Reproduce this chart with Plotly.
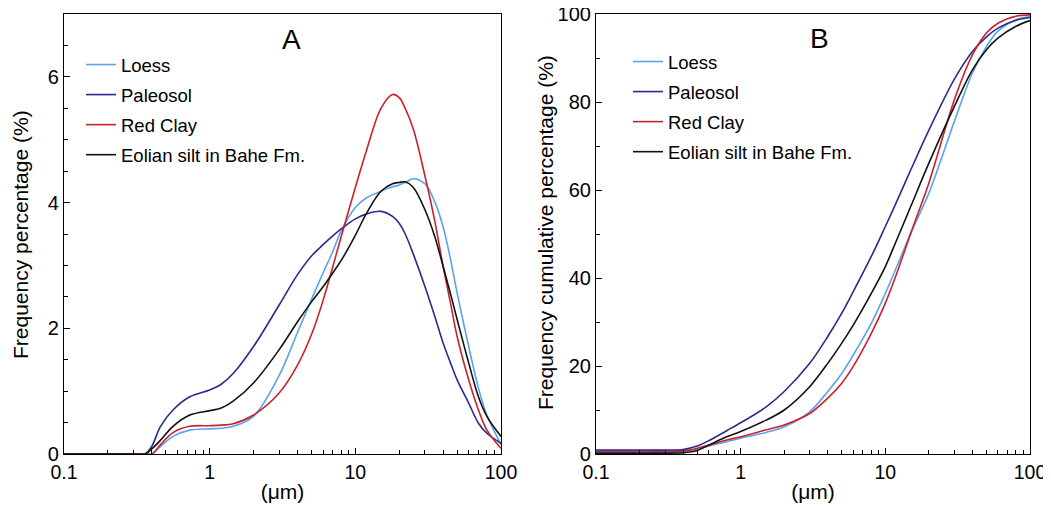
import plotly.graph_objects as go

# Grain size (um) sample points for panel A
size_a = [0.1, 0.2, 0.3, 0.36, 0.4, 0.46, 0.56, 0.73, 1, 1.2, 1.45, 2, 3, 4, 5, 6, 7, 8,
          10, 12, 15, 18, 20, 22, 25, 30, 35, 40, 45, 50, 60, 70, 80, 100]

# Panel A: frequency percentage (%)
loess_a = [0, 0, 0, 0, 0, 0.12, 0.28, 0.38, 0.40, 0.41, 0.44, 0.60, 1.25, 1.93, 2.46, 2.88, 3.22, 3.55,
           3.92, 4.08, 4.18, 4.25, 4.28, 4.32, 4.38, 4.30, 4.02, 3.62, 3.10, 2.56, 1.71, 1.05, 0.62, 0.15]
paleosol_a = [0, 0, 0, 0, 0.12, 0.44, 0.70, 0.91, 1.02, 1.11, 1.28, 1.71, 2.37, 2.85, 3.15, 3.33, 3.47, 3.58,
              3.74, 3.82, 3.86, 3.78, 3.67, 3.50, 3.18, 2.67, 2.20, 1.77, 1.45, 1.18, 0.81, 0.49, 0.33, 0.17]
redclay_a = [0, 0, 0, 0, 0, 0.15, 0.34, 0.44, 0.45, 0.46, 0.48, 0.62, 0.97, 1.41, 1.90, 2.44, 2.98, 3.46,
             4.24, 4.85, 5.50, 5.72, 5.67, 5.50, 5.17, 4.43, 3.72, 2.99, 2.40, 1.87, 1.18, 0.70, 0.38, 0.09]
eolian_a = [0, 0, 0, 0, 0.08, 0.22, 0.44, 0.62, 0.69, 0.73, 0.84, 1.13, 1.66, 2.10, 2.42, 2.66, 2.88, 3.08,
            3.48, 3.84, 4.18, 4.30, 4.32, 4.33, 4.24, 3.89, 3.47, 2.99, 2.55, 2.14, 1.45, 0.91, 0.60, 0.28]

# Panel B: cumulative percentage (%)
size_b = [0.1, 0.2, 0.3, 0.4, 0.5, 0.6, 0.8, 1, 1.5, 2, 3, 4, 5, 6, 8, 10, 12, 15, 20, 30, 40, 50, 60, 80, 100]
loess_b = [0.8, 0.8, 0.8, 0.8, 1.1, 1.8, 2.8, 3.6, 4.9, 6.2, 9.6, 14.2, 18.3, 22.5, 29.7, 36.5, 42.6, 50.2, 59.3,
           75.6, 86.6, 92.6, 96.1, 98.7, 99.4]
paleosol_b = [0.9, 0.9, 0.9, 1.0, 1.8, 3.0, 5.3, 7.1, 10.7, 14.2, 20.6, 26.7, 32.0, 36.9, 44.9, 51.7, 57.4, 64.6, 73.6,
              85.2, 91.5, 94.8, 96.8, 98.6, 99.2]
redclay_b = [0.5, 0.5, 0.5, 0.6, 1.3, 2.0, 3.2, 3.9, 5.5, 6.6, 9.2, 12.7, 16.1, 19.9, 27.4, 34.3, 41.1, 50.2, 61.6,
             80.5, 90.7, 95.7, 97.9, 99.5, 99.8]
eolian_b = [0.2, 0.2, 0.2, 0.3, 0.8, 2.0, 3.9, 5.1, 7.7, 10.0, 15.3, 20.6, 25.2, 29.3, 36.5, 42.6, 48.7, 56.3, 66.1,
            79.0, 87.3, 91.9, 94.5, 97.2, 98.5]

names = ["Loess", "Paleosol", "Red Clay", "Eolian silt in Bahe Fm."]
colors = ["#5ba3ea", "#2a2a8f", "#c9222a", "#111111"]
font = "Liberation Sans, Arial, sans-serif"

fig = go.Figure()

for name, color, ys in zip(names, colors, [loess_a, paleosol_a, redclay_a, eolian_a]):
    fig.add_trace(go.Scatter(x=size_a, y=ys, name=name, mode="lines",
                             line=dict(color=color, width=1.6, shape="spline", smoothing=1.0),
                             xaxis="x", yaxis="y", legend="legend", legendgroup="a" + name))

for name, color, ys in zip(names, colors, [loess_b, paleosol_b, redclay_b, eolian_b]):
    fig.add_trace(go.Scatter(x=size_b, y=ys, name=name, mode="lines",
                             line=dict(color=color, width=1.6, shape="spline", smoothing=0.9),
                             xaxis="x2", yaxis="y2", legend="legend2", legendgroup="b" + name))

# The page body adds an 8px margin, so the figure is a bit smaller than the window
OFF = 8
W, H = 1051 - OFF, 506 - OFF
L, R, T, B = 64 - OFF, 21, 14 - OFF, 52
PW, PH = W - L - R, H - T - B


def px(sx):
    # screen x -> paper x
    return (sx - OFF - L) / PW


def py(sy):
    # screen y -> paper y
    return 1 - (sy - OFF - T) / PH


xaxis_common = dict(type="log", range=[-1, 2], showline=True, linecolor="black", linewidth=1.2, mirror=True,
                    ticks="inside", ticklen=6, tickcolor="black", tickvals=[0.1, 1, 10, 100],
                    ticktext=["0.1", "1", "10", "100"], showgrid=False, zeroline=False, automargin=False,
                    ticklabeloverflow="allow",
                    minor=dict(ticks="inside", ticklen=4, tickcolor="black", dtick="D1", showgrid=False),
                    tickfont=dict(size=19.5, color="black"),
                    title=dict(text="(μm)", font=dict(size=21, color="black"), standoff=2))
yaxis_common = dict(showline=True, linecolor="black", linewidth=1.2, mirror=True, ticks="inside", ticklen=6,
                    tickcolor="black", showgrid=False, zeroline=False, automargin=False,
                    ticklabeloverflow="allow", tickfont=dict(size=20, color="black"))

legend_common = dict(font=dict(size=18.5, color="black", family=font), bgcolor="rgba(0,0,0,0)",
                     traceorder="grouped", tracegroupgap=3, itemwidth=30, yanchor="top", xanchor="left")

text_common = dict(xref="paper", yref="paper", showarrow=False, xanchor="center", yanchor="middle")

fig.update_layout(
    width=W, height=H, plot_bgcolor="white", paper_bgcolor="white",
    font=dict(family=font, color="black"),
    margin=dict(l=L, r=R, t=T, b=B),
    xaxis=dict(domain=[0, px(501)], anchor="y", **xaxis_common),
    yaxis=dict(domain=[0, 1], anchor="x", range=[0, 7], dtick=2,
               minor=dict(ticks="inside", ticklen=4, tickcolor="black", dtick=0.5),
               **yaxis_common),
    xaxis2=dict(domain=[px(596), 1], anchor="y2", **xaxis_common),
    yaxis2=dict(domain=[0, 1], anchor="x2", range=[0, 100], dtick=20,
                minor=dict(ticks="inside", ticklen=4, tickcolor="black", dtick=10),
                **yaxis_common),
    legend=dict(x=px(81), y=py(46), **legend_common),
    legend2=dict(x=px(628), y=py(43), **legend_common),
    showlegend=True,
    annotations=[
        dict(text="A", x=px(291), y=py(40), font=dict(size=28, color="black"), **text_common),
        dict(text="B", x=px(819), y=py(39), font=dict(size=28, color="black"), **text_common),
        dict(text="Frequency percentage (%)", x=px(20), y=py(235), textangle=-90,
             font=dict(size=21, color="black"), **text_common),
        dict(text="Frequency cumulative percentage (%)", x=px(545), y=py(233), textangle=-90,
             font=dict(size=21, color="black"), **text_common),
    ],
)

fig.write_html("out.html")
